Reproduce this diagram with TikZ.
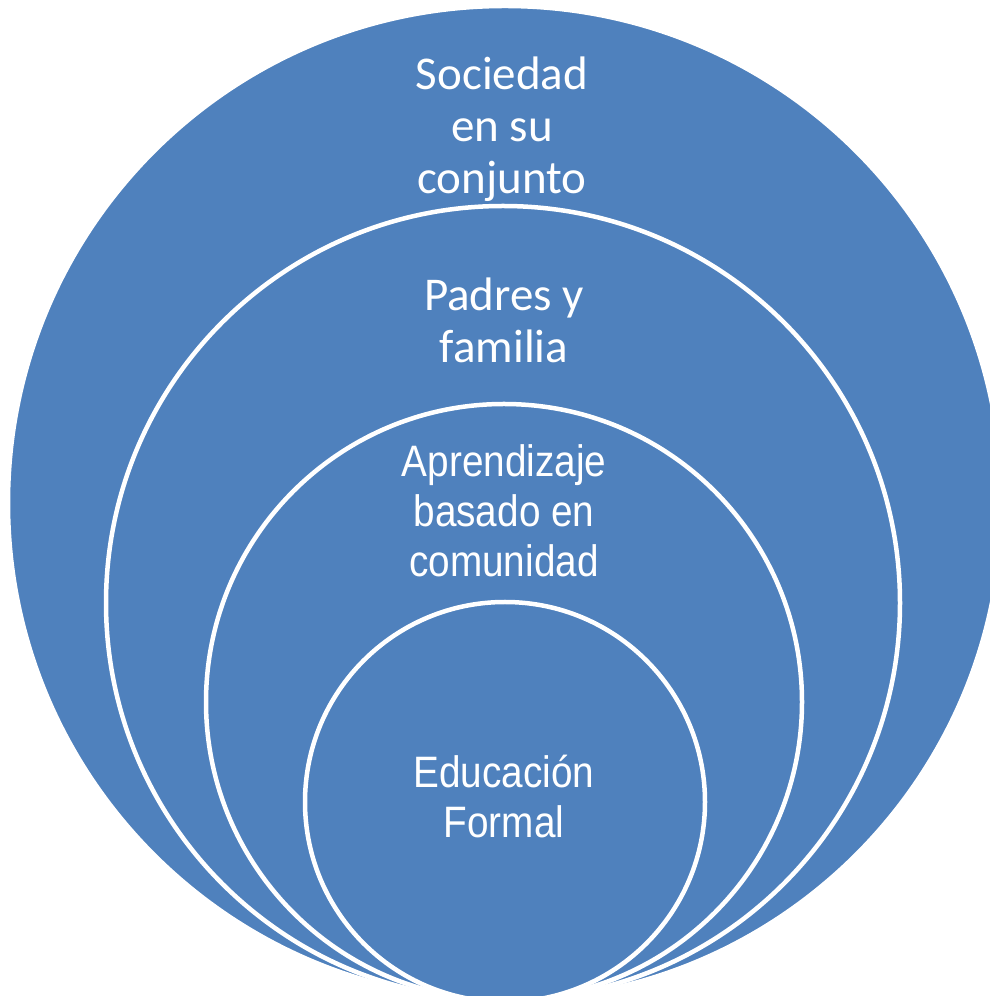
\documentclass[tikz,border=0pt]{standalone}
\usepackage{fontspec}
\newfontfamily\calibrifont{Carlito}
\newfontfamily\narrowfont[FakeStretch=0.88]{Liberation Sans}
\definecolor{ringblue}{RGB}{79,129,189}
\begin{document}
\begin{tikzpicture}[x=1pt,y=1pt,
  ring/.style={draw=white,line width=4.5pt,fill=ringblue},
  widetext/.style={text=white,align=center,inner sep=0pt,font=\calibrifont\fontsize{47}{52}\selectfont},
  narrowtext/.style={text=white,align=center,inner sep=0pt,font=\narrowfont\fontsize{44}{50}\selectfont}]
\useasboundingbox (0,0) rectangle (989,996);
\path[ring] (505,493) circle (497);
\path[ring] (503,393) circle (397);
\path[ring] (504,294) circle (298);
\path[ring] (505,194) circle (200);
\node[widetext] (soc) at (502,867) {Sociedad\\en su\\conjunto};
\node[widetext] (fam) at (504,676) {Padres y\\familia};
\node[narrowtext] (com) at (504,485) {Aprendizaje\\basado en\\comunidad};
\node[narrowtext] (edu) at (504,199) {Educación\\Formal};
\end{tikzpicture}
\end{document}
